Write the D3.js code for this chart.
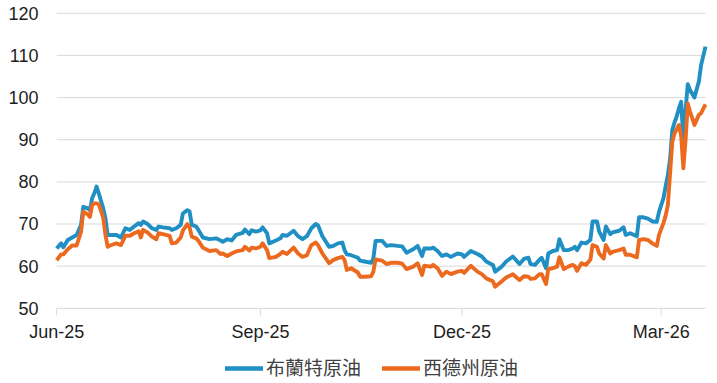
<!DOCTYPE html>
<html><head><meta charset="utf-8">
<script src="https://cdn.jsdelivr.net/npm/d3@7"></script>
<style>html,body{margin:0;padding:0;background:#fff;}svg{display:block;}</style>
</head><body>
<svg id="chart" width="717" height="383"></svg>
<script>
const dates = ["2025-06-01","2025-06-03","2025-06-04","2025-06-06","2025-06-08","2025-06-10","2025-06-12","2025-06-13","2025-06-15","2025-06-16",
"2025-06-17","2025-06-18","2025-06-19","2025-06-20","2025-06-22","2025-06-23","2025-06-24","2025-06-25","2025-06-28","2025-06-30",
"2025-07-02","2025-07-04","2025-07-06","2025-07-08","2025-07-09","2025-07-10","2025-07-12","2025-07-14","2025-07-16","2025-07-17",
"2025-07-19","2025-07-22","2025-07-23","2025-07-25","2025-07-27","2025-07-28","2025-07-30","2025-07-31","2025-08-01","2025-08-03",
"2025-08-04","2025-08-06","2025-08-09","2025-08-12","2025-08-14","2025-08-15","2025-08-17","2025-08-19","2025-08-21","2025-08-24",
"2025-08-25","2025-08-27","2025-08-28","2025-08-30","2025-09-01","2025-09-02","2025-09-04","2025-09-05","2025-09-08","2025-09-10",
"2025-09-11","2025-09-13","2025-09-16","2025-09-18","2025-09-20","2025-09-22","2025-09-24","2025-09-26","2025-09-27","2025-09-29",
"2025-10-02","2025-10-04","2025-10-06","2025-10-08","2025-10-09","2025-10-10","2025-10-12","2025-10-15","2025-10-16","2025-10-18",
"2025-10-21","2025-10-22","2025-10-23","2025-10-26","2025-10-28","2025-10-30","2025-11-02","2025-11-04","2025-11-06","2025-11-09",
"2025-11-11","2025-11-13","2025-11-14","2025-11-17","2025-11-18","2025-11-20","2025-11-22","2025-11-24","2025-11-26","2025-11-29",
"2025-12-01","2025-12-02","2025-12-05","2025-12-08","2025-12-10","2025-12-12","2025-12-15","2025-12-16","2025-12-19","2025-12-21",
"2025-12-24","2025-12-25","2025-12-27","2025-12-29","2025-12-31","2026-01-01","2026-01-03","2026-01-05","2026-01-06","2026-01-08",
"2026-01-09","2026-01-11","2026-01-13","2026-01-14","2026-01-16","2026-01-18","2026-01-20","2026-01-21","2026-01-22","2026-01-24",
"2026-01-26","2026-01-28","2026-01-29","2026-01-31","2026-02-01","2026-02-03","2026-02-04","2026-02-06","2026-02-07","2026-02-10",
"2026-02-12","2026-02-13","2026-02-15","2026-02-18","2026-02-19","2026-02-21","2026-02-23","2026-02-25","2026-02-27","2026-02-28",
"2026-03-02","2026-03-03","2026-03-04","2026-03-05","2026-03-06","2026-03-07","2026-03-08","2026-03-09","2026-03-10","2026-03-11",
"2026-03-12","2026-03-13","2026-03-14","2026-03-16","2026-03-18","2026-03-19","2026-03-21"];

const brent = [64.2,65.4,64.5,66.2,66.8,67.4,69.8,74.1,73.7,73.3,
76.1,77.3,78.9,77.3,73.7,71.4,67.4,67.4,67.4,66.8,
69.0,68.6,69.4,70.2,69.8,70.6,70.0,69.0,68.6,69.4,
69.2,69.0,68.6,69.0,69.8,72.5,73.3,73.0,69.8,69.4,
68.6,66.8,66.4,66.6,66.1,65.8,66.4,66.1,67.4,67.9,
68.7,67.6,68.5,68.2,68.5,69.2,67.8,65.4,66.1,66.6,
67.4,67.2,68.4,67.1,66.4,67.1,69.0,70.0,69.7,67.1,
64.6,64.8,65.4,65.6,63.8,62.8,62.6,62.0,61.3,61.1,
60.8,61.8,66.0,66.0,64.8,65.0,64.8,64.7,63.2,64.0,
64.8,62.4,64.2,64.2,64.4,63.6,62.4,62.8,62.2,63.0,
62.8,62.2,63.6,62.9,62.3,61.1,60.3,58.7,59.9,61.1,
62.3,61.7,60.5,61.7,62.0,60.5,60.3,61.5,62.0,59.5,
63.0,63.6,63.8,66.4,63.8,63.8,64.2,64.6,63.8,65.6,
65.4,66.2,70.6,70.6,68.2,66.2,69.4,67.6,68.0,68.4,
69.2,67.4,67.8,67.1,71.6,71.6,71.3,70.6,70.5,72.9,
76.1,79.0,81.6,85.4,92.3,94.1,95.5,97.5,99.0,90.0,
97.0,103.2,101.8,100.0,103.8,107.7,112.1];

const wti = [61.4,62.8,62.8,64.0,64.9,64.9,68.2,72.9,72.3,71.7,
74.5,74.9,74.9,74.7,71.5,67.5,64.6,64.9,65.4,65.0,
67.2,67.2,67.8,68.3,66.8,68.6,68.0,67.0,66.4,67.8,
67.6,67.2,65.4,65.6,66.8,68.5,70.0,69.2,67.0,66.6,
66.0,64.4,63.6,63.8,62.9,63.0,62.4,63.0,63.5,63.8,
64.6,63.7,64.4,64.2,64.6,65.4,63.8,61.9,62.2,62.9,
63.4,62.9,64.4,63.0,62.2,62.6,65.0,65.6,65.0,63.0,
60.7,61.5,61.9,62.2,61.5,59.1,59.5,58.5,57.5,57.5,
57.6,58.7,61.6,61.3,60.5,60.8,60.8,60.6,59.3,59.9,
60.7,57.9,60.1,59.9,60.3,59.5,57.7,58.7,58.1,58.7,
58.9,58.4,60.1,58.7,58.1,57.1,56.4,55.1,56.4,57.3,
58.1,57.6,56.7,57.6,57.5,57.0,57.1,58.1,58.1,55.8,
59.3,59.5,59.9,62.1,59.3,59.9,60.3,60.0,58.9,60.7,
60.3,61.5,65.0,64.6,63.0,61.8,65.0,63.0,63.4,63.8,
64.2,62.7,62.7,62.1,66.2,66.4,66.2,65.4,64.8,67.4,
70.2,72.0,74.5,82.0,89.5,91.5,92.5,93.5,91.0,83.2,
90.0,98.6,96.7,93.5,95.9,96.3,98.4];

const yTicks = [50,60,70,80,90,100,110,120];
const xTickDates = ["2025-06-01","2025-09-01","2025-12-01","2026-03-01"];
const xTickLabels = ["Jun-25","Sep-25","Dec-25","Mar-26"];
const seriesNames = ["布蘭特原油","西德州原油"];
const seriesColors = ["#1f8fc4","#ec6a1f"];

const parse = d3.timeParse("%Y-%m-%d");
const svg = d3.select("#chart");
const x = d3.scaleTime().domain([parse("2025-06-01"), parse("2026-03-21")]).range([56.7, 705.5]);
const y = d3.scaleLinear().domain([50,120]).range([308.3, 13.3]);
const font = "'Liberation Sans', Arial, sans-serif";

// gridlines
svg.append("g").selectAll("line").data(yTicks).join("line")
  .attr("x1", x.range()[0]).attr("x2", x.range()[1])
  .attr("y1", d => y(d)).attr("y2", d => y(d))
  .attr("stroke", "#d9d9d9").attr("stroke-width", 1);

// y labels
svg.append("g").selectAll("text").data(yTicks).join("text")
  .attr("x", 38.5).attr("y", d => y(d)).attr("dy", "0.36em")
  .attr("text-anchor", "end").attr("font-family", font).attr("font-size", 18)
  .attr("fill", "#1e1e1e").text(d => d);

// x ticks
const xt = xTickDates.map(parse);
svg.append("g").selectAll("line").data(xt).join("line")
  .attr("x1", d => x(d)).attr("x2", d => x(d))
  .attr("y1", y(50)).attr("y2", y(50) + 7)
  .attr("stroke", "#d9d9d9").attr("stroke-width", 1);
svg.append("g").selectAll("text").data(xt).join("text")
  .attr("x", d => x(d)).attr("y", 338)
  .attr("text-anchor", "middle").attr("font-family", font).attr("font-size", 18)
  .attr("fill", "#1e1e1e").text((d, i) => xTickLabels[i]);

// lines
const rows = dates.map((d, i) => ({date: parse(d), b: brent[i], w: wti[i]}));
const lineB = d3.line().x(d => x(d.date)).y(d => y(d.b));
const lineW = d3.line().x(d => x(d.date)).y(d => y(d.w));
svg.append("path").datum(rows).attr("d", lineB).attr("fill", "none")
  .attr("stroke", seriesColors[0]).attr("stroke-width", 3.9).attr("stroke-linejoin", "round");
svg.append("path").datum(rows).attr("d", lineW).attr("fill", "none")
  .attr("stroke", seriesColors[1]).attr("stroke-width", 3.9).attr("stroke-linejoin", "round");

// legend
const legX = [225, 382];
const lg = svg.append("g");
seriesNames.forEach((n, i) => {
  lg.append("line").attr("x1", legX[i]).attr("x2", legX[i] + 38)
    .attr("y1", 368.5).attr("y2", 368.5)
    .attr("stroke", seriesColors[i]).attr("stroke-width", 4.5);
  lg.append("text").attr("x", legX[i] + 41).attr("y", 368.5).attr("dy", "0.36em")
    .attr("font-family", "'Noto Sans CJK TC', 'Noto Sans CJK SC', sans-serif")
    .attr("font-size", 19).attr("fill", "#404040").text(n);
});
</script>
</body></html>
